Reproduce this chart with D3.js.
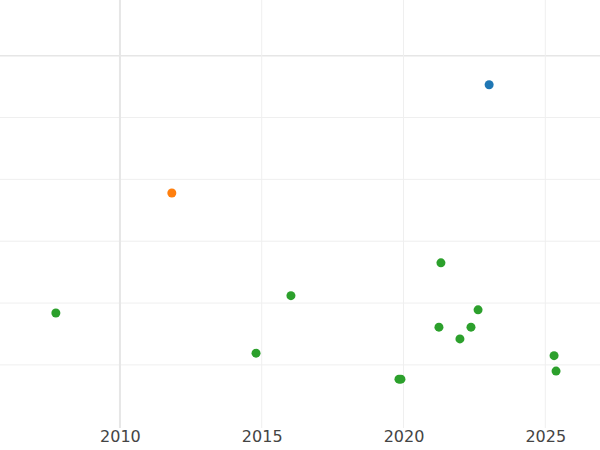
<!DOCTYPE html>
<html><head><meta charset="utf-8">
<script src="https://cdn.jsdelivr.net/npm/d3@7"></script>
<style>body{margin:0;background:#fff}</style></head>
<body><svg id="c" width="600" height="450"></svg>
<script>
const blueX=[2023.02], blueY=[5.53];
const orangeX=[2011.83], orangeY=[3.78];
const greenX=[2007.74,2014.8,2016.03,2019.84,2019.91,2021.32,2021.25,2021.99,2022.38,2022.63,2025.31,2025.38];
const greenY=[1.84,1.19,2.12,0.77,0.77,2.65,1.61,1.42,1.61,1.89,1.15,0.90];
const xTicks=[2010,2015,2020,2025];
const yTicks=[1,2,3,4,5,6];
const svg=d3.select("#c");
const x=d3.scaleLinear().domain([2005.77,2026.93]).range([0,600]);
const y=d3.scaleLinear().domain([-0.02,6.9]).range([428,0]);
svg.append("g").selectAll("line").data(yTicks).join("line")
 .attr("x1",0).attr("x2",600).attr("y1",d=>y(d)).attr("y2",d=>y(d))
 .attr("stroke",d=>d===6?"#e6e6e6":"#efefef").attr("stroke-width",d=>d===6?1.5:1);
svg.append("g").selectAll("line").data(xTicks).join("line")
 .attr("y1",0).attr("y2",428).attr("x1",d=>x(d)).attr("x2",d=>x(d))
 .attr("stroke",d=>d===2010?"#e6e6e6":"#efefef").attr("stroke-width",d=>d===2010?2:1);
const ax=svg.append("g").attr("transform","translate(0,428)").call(d3.axisBottom(x).tickValues(xTicks).tickFormat(d3.format("d")).tickSize(0).tickPadding(3));
ax.select(".domain").remove();
ax.selectAll("text").attr("font-family","DejaVu Sans, sans-serif").attr("font-size",16).attr("fill","#444");
function pts(xs,ys,col){svg.append("g").selectAll("circle").data(xs).join("circle")
 .attr("cx",d=>x(d)).attr("cy",(d,i)=>y(ys[i])).attr("r",4.5).attr("fill",col);}
pts(greenX,greenY,"#2ca02c");pts(orangeX,orangeY,"#ff7f0e");pts(blueX,blueY,"#1f77b4");
</script></body></html>
